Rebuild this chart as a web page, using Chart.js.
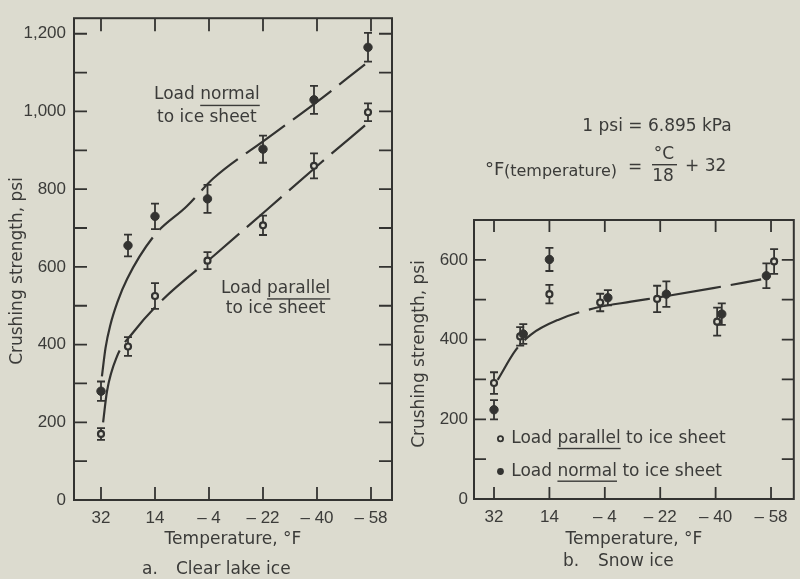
<!DOCTYPE html>
<html>
<head>
<meta charset="utf-8">
<script src="https://cdn.jsdelivr.net/npm/chart.js@4.4.1/dist/chart.umd.min.js"></script>
<style>
  html, body { margin: 0; padding: 0; background: #dcdbcf; }
  #wrap { position: relative; width: 800px; height: 579px; }
  .box { position: absolute; top: 0; width: 400px; height: 579px; }
</style>
</head>
<body>
<div id="wrap">
  <div class="box" style="left:0"><canvas id="chartA"></canvas></div>
  <div class="box" style="left:400px"><canvas id="chartB"></canvas></div>
</div>
<script>
// temperature axis (°F)
const tempTicks = [32, 14, -4, -22, -40, -58];
const tempTickLabels = ['32', '14', '– 4', '– 22', '– 40', '– 58'];

// a. clear lake ice
const lakeTemps = [32, 23, 14, -3.5, -22, -39, -57];
const lakeNormal = [280, 655, 730, 775, 903, 1030, 1165];
const lakeNormalErr = [25, 28, 33, 36, 35, 36, 37];
const lakeParTemps = [32, 23, 14, -3.5, -22, -39, -57];
const lakeParallel = [170, 395, 525, 616, 707, 860, 998];
const lakeParallelErr = [15, 24, 33, 22, 25, 32, 23];
// fitted curves
const lakeNormCurveT = [31.7, 30.5, 28.9, 26.5, 23.3, 14.4, 3.4, -5.5, -23.3, -39, -56];
const lakeNormCurve = [318, 391, 450, 510, 569, 679, 756, 828, 930, 1019, 1121];
const lakeParCurveT = [31.3, 30, 26.7, 21.1, 12.2, -5.5, -23.3, -41, -56];
const lakeParCurve = [200, 280, 369, 433, 510, 628, 747, 866, 964];
const lakeYTicks = [0, 100, 200, 300, 400, 500, 600, 700, 800, 900, 1000, 1100, 1200];

// b. snow ice
const snowParTemps = [32, 23.5, 14, -2.5, -21, -40.5, -59];
const snowParallel = [291, 408, 514, 493, 502, 445, 596];
const snowParallelErr = [27, 23, 23, 22, 33, 35, 31];
const snowNormTemps = [32, 22.5, 14, -5, -24, -42, -56.5];
const snowNormal = [224, 414, 601, 505, 514, 464, 560];
const snowNormalErr = [24, 25, 29, 19, 32, 27, 31];
const snowCurveT = [30.8, 24.9, 20.1, 11, -1.8, -12.5, -23.2, -39.2, -54.8];
const snowCurve = [299, 374, 412, 450, 481, 495, 508, 529, 551];
const snowYTicks = [0, 100, 200, 300, 400, 500, 600];

const ink = '#333331';
const txt = '#3b3b39';
const bg = '#dcdbcf';
const fontT = '"DejaVu Sans", sans-serif';
const fontN = '"Liberation Sans", Arial, sans-serif';

function pts(xs, ys) { return xs.map((x, i) => ({x: x, y: ys[i]})); }

function tempLabel(v) {
  const i = tempTicks.indexOf(v);
  return i < 0 ? '' : tempTickLabels[i];
}

// dash pattern: one long first stroke, then regular dashes
function dashes(first, dash, gap) {
  const d = [first, gap];
  for (let i = 0; i < 12; i++) d.push(dash, gap);
  return d;
}

// draw text pieces, some underlined
function say(ctx, parts, x, y, size, align, ul) {
  ctx.font = size + 'px ' + fontT;
  ctx.fillStyle = txt;
  ctx.textBaseline = 'middle';
  ctx.textAlign = 'left';
  const full = parts.map(p => p[0]).join('');
  let sx = align === 'center' ? x - ctx.measureText(full).width / 2 : x;
  parts.forEach(p => {
    const w = ctx.measureText(p[0]).width;
    ctx.fillText(p[0], sx, y);
    if (p[1]) ctx.fillRect(sx, y + (ul || 10), w, 1.4);
    sx += w;
  });
}

const frameAndBars = {
  id: 'frameAndBars',
  beforeDatasetsDraw(chart, args, opts) {
    const {ctx, chartArea: a, scales: {x, y}} = chart;
    ctx.save();
    ctx.strokeStyle = ink;
    ctx.lineWidth = 2;
    ctx.strokeRect(a.left, a.top, a.right - a.left, a.bottom - a.top);
    ctx.lineWidth = 1.8;
    ctx.beginPath();
    x.ticks.forEach(t => {
      const px = x.getPixelForValue(t.value);
      ctx.moveTo(px, a.bottom); ctx.lineTo(px, a.bottom - opts.tick);
      ctx.moveTo(px, a.top); ctx.lineTo(px, a.top + opts.tick);
    });
    y.ticks.forEach(t => {
      if (t.value === 0) return;
      const py = y.getPixelForValue(t.value);
      ctx.moveTo(a.left, py); ctx.lineTo(a.left + opts.tick, py);
      ctx.moveTo(a.right, py); ctx.lineTo(a.right - opts.tick, py);
    });
    ctx.stroke();
    // error bars
    ctx.lineWidth = 1.8;
    chart.data.datasets.forEach((ds, i) => {
      if (!ds.err) return;
      ds.data.forEach((d, j) => {
        const px = x.getPixelForValue(d.x);
        const y1 = y.getPixelForValue(d.y + ds.err[j]);
        const y2 = y.getPixelForValue(d.y - ds.err[j]);
        ctx.beginPath();
        ctx.moveTo(px, y1); ctx.lineTo(px, y2);
        ctx.moveTo(px - 4, y1); ctx.lineTo(px + 4, y1);
        ctx.moveTo(px - 4, y2); ctx.lineTo(px + 4, y2);
        ctx.stroke();
      });
    });
    ctx.restore();
  },
  afterDraw(chart, args, opts) {
    const ctx = chart.ctx;
    ctx.save();
    opts.draw(chart, ctx);
    ctx.restore();
  }
};

function pointSet(data, err, filled) {
  return {
    data: data, err: err,
    pointStyle: 'circle',
    pointRadius: filled ? 4.2 : 3,
    pointBorderWidth: filled ? 1 : 2.2,
    pointBackgroundColor: filled ? ink : bg,
    pointBorderColor: ink,
    pointHoverRadius: 4
  };
}

function curveSet(data, dash) {
  return {
    data: data, showLine: true, pointRadius: 0,
    borderColor: ink, borderWidth: 2.2, borderDash: dash,
    cubicInterpolationMode: 'monotone', fill: false
  };
}

function makeChart(id, o) {
  return new Chart(document.getElementById(id), {
    type: 'scatter',
    data: { datasets: o.datasets },
    options: {
      responsive: true, maintainAspectRatio: false, animation: false,
      layout: { padding: { top: o.top, right: o.right, left: 0, bottom: 0 } },
      plugins: {
        legend: { display: false }, tooltip: { enabled: false },
        frameAndBars: { tick: o.tick, draw: o.draw }
      },
      scales: {
        x: {
          type: 'linear', reverse: true, min: o.xmin, max: o.xmax,
          afterBuildTicks: s => { s.ticks = tempTicks.map(v => ({value: v})); },
          afterFit: s => { s.height = 579 - o.bottom; },
          grid: { display: false, drawTicks: false }, border: { display: false },
          ticks: { autoSkip: false, maxRotation: 0, padding: 8, color: txt,
            font: { family: fontN, size: 17 }, callback: v => tempLabel(v) },
          title: { display: true, text: 'Temperature, °F', color: txt,
            font: { family: fontT, size: 17 }, padding: { bottom: 29, top: 0 } }
        },
        y: {
          min: 0, max: o.ymax,
          afterBuildTicks: s => { s.ticks = o.yTicks.map(v => ({value: v})); },
          afterFit: s => { s.width = 74; },
          grid: { display: false, drawTicks: false }, border: { display: false },
          ticks: { autoSkip: false, padding: o.ypad, color: txt,
            font: { family: fontN, size: 17 },
            callback: v => v % 200 === 0 ? v.toLocaleString('en-US') : '' }
        }
      }
    },
    plugins: [frameAndBars]
  });
}

makeChart('chartA', {
  top: 14, right: 8, bottom: 500, tick: 13, xmin: -65, xmax: 41, ymax: 1240,
  yTicks: lakeYTicks, ypad: 8,
  datasets: [
    pointSet(pts(lakeTemps, lakeNormal), lakeNormalErr, true),
    pointSet(pts(lakeParTemps, lakeParallel), lakeParallelErr, false),
    curveSet(pts(lakeNormCurveT, lakeNormCurve), dashes(150, 48, 10)),
    curveSet(pts(lakeParCurveT, lakeParCurve), dashes(74, 46, 10))
  ],
  draw(chart, ctx) {
    const {x, y} = chart.scales;
    say(ctx, [['Load '], ['normal', true]], x.getPixelForValue(-3.3), y.getPixelForValue(1043), 17, 'center', 10);
    say(ctx, [['to ice sheet']], x.getPixelForValue(-3.3), y.getPixelForValue(985), 17, 'center');
    say(ctx, [['Load '], ['parallel', true]], x.getPixelForValue(-26.2), y.getPixelForValue(545), 17, 'center', 10);
    say(ctx, [['to ice sheet']], x.getPixelForValue(-26.2), y.getPixelForValue(492), 17, 'center');
    // y title
    ctx.save();
    ctx.translate(18, 271);
    ctx.rotate(-Math.PI / 2);
    say(ctx, [['Crushing strength, psi']], 0, 0, 17, 'center');
    ctx.restore();
    say(ctx, [['a.']], 142, 570, 17, 'left');
    say(ctx, [['Clear lake ice']], 176, 570, 17, 'left');
  }
});

makeChart('chartB', {
  top: 220, right: 2, bottom: 499, tick: 12, xmin: -65.4, xmax: 38.5, ymax: 700,
  yTicks: snowYTicks, ypad: 6,
  datasets: [
    pointSet(pts(snowNormTemps, snowNormal), snowNormalErr, true),
    pointSet(pts(snowParTemps, snowParallel), snowParallelErr, false),
    curveSet(pts(snowCurveT, snowCurve), dashes(38, 62, 10))
  ],
  draw(chart, ctx) {
    const {x, y} = chart.scales;
    // legend
    const lx = x.getPixelForValue(29.9);
    ctx.strokeStyle = ink; ctx.fillStyle = bg; ctx.lineWidth = 1.8;
    ctx.beginPath(); ctx.arc(lx, y.getPixelForValue(151), 2.6, 0, Math.PI * 2); ctx.fill(); ctx.stroke();
    ctx.fillStyle = ink;
    ctx.beginPath(); ctx.arc(lx, y.getPixelForValue(69), 3.4, 0, Math.PI * 2); ctx.fill();
    const tx = x.getPixelForValue(26.4);
    say(ctx, [['Load '], ['parallel', true], [' to ice sheet']], tx, y.getPixelForValue(151), 17, 'left', 9);
    say(ctx, [['Load '], ['normal', true], [' to ice sheet']], tx, y.getPixelForValue(69), 17, 'left', 9);
    // y title
    ctx.save();
    ctx.translate(20, 354);
    ctx.rotate(-Math.PI / 2);
    say(ctx, [['Crushing strength, psi']], 0, 0, 17, 'center');
    ctx.restore();
    say(ctx, [['b.']], 163, 562, 17, 'left');
    say(ctx, [['Snow ice']], 198, 562, 17, 'left');
    // conversion notes
    say(ctx, [['1 psi = 6.895 kPa']], 257, 127, 17, 'center');
    say(ctx, [['°F']], 85, 170, 18, 'left');
    say(ctx, [['(temperature)']], 104, 172, 16, 'left');
    say(ctx, [['=']], 235, 168, 17, 'center');
    say(ctx, [['°C']], 264, 155, 17, 'center');
    ctx.fillStyle = txt;
    ctx.fillRect(252, 164, 25, 1.4);
    say(ctx, [['18']], 263, 177, 17, 'center');
    say(ctx, [['+ 32']], 285, 167, 17, 'left');
  }
});
</script>
</body>
</html>
